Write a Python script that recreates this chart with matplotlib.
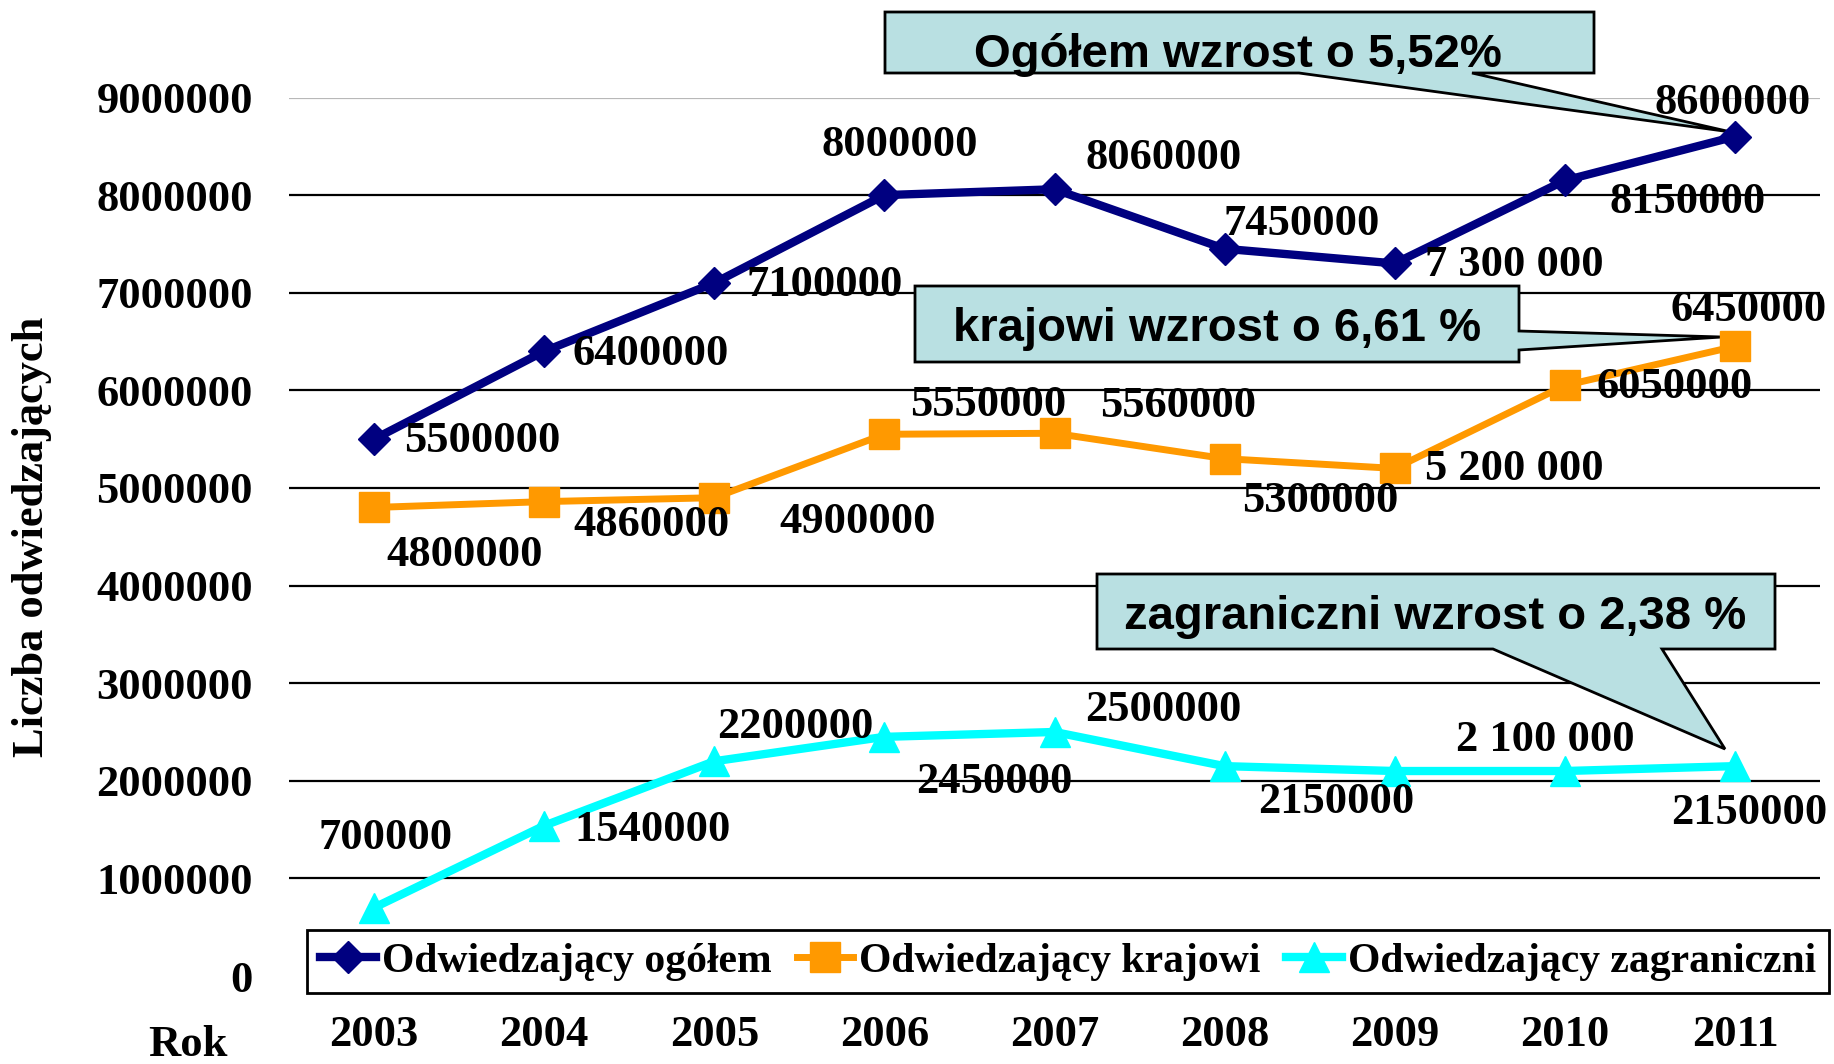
import matplotlib
matplotlib.use("Agg")
import matplotlib.pyplot as plt
from matplotlib.patches import Polygon

W, H = 1834, 1064

# data
years = ['2003', '2004', '2005', '2006', '2007', '2008', '2009', '2010', '2011']
ogolem = [5500000, 6400000, 7100000, 8000000, 8060000, 7450000, 7300000, 8150000, 8600000]
krajowi = [4800000, 4860000, 4900000, 5550000, 5560000, 5300000, 5200000, 6050000, 6450000]
zagraniczni = [700000, 1540000, 2200000, 2450000, 2500000, 2150000, 2100000, 2100000, 2150000]

lab_ogolem = ['5500000', '6400000', '7100000', '8000000', '8060000', '7450000', '7 300 000', '8150000', '8600000']
lab_krajowi = ['4800000', '4860000', '4900000', '5550000', '5560000', '5300000', '5 200 000', '6050000', '6450000']
lab_zagr = ['700000', '1540000', '2200000', '2450000', '2500000', '2150000', '', '2 100 000', '2150000']

yticks = [0, 1000000, 2000000, 3000000, 4000000, 5000000, 6000000, 7000000, 8000000, 9000000]

# label offsets (pixels, image direction: +y is down)
off_ogolem = [(108, 2), (107, 3), (110, 2), (15, -50), (109, -31), (77, -25), (120, 2), (123, 22), (-2, -34)]
off_krajowi = [(91, 48), (107, 23), (143, 24), (104, -29), (124, -27), (96, 42), (120, 1), (110, 2), (14, -36)]
off_zagr = [(12, -70), (108, 4), (81, -34), (110, 45), (109, -22), (112, 36), (0, 0), (-20, -31), (14, 47)]

serif = dict(family='Liberation Serif', weight='bold', size=32)
sans = dict(family='Liberation Sans', weight='bold', size=34)

fig = plt.figure(figsize=(W / 100, H / 100), dpi=100)
ax = fig.add_axes([289 / W, 1 - 976 / H, (1820 - 289) / W, (976 - 97.5) / H])

x = list(range(len(years)))
ax.plot(x, ogolem, color='#000080', lw=6, marker='D', ms=16, zorder=3, label='Odwiedzający ogółem')
ax.plot(x, krajowi, color='#FF9900', lw=5, marker='s', ms=21, zorder=3, label='Odwiedzający krajowi')
ax.plot(x, zagraniczni, color='#00FFFF', lw=6, marker='^', ms=22, zorder=3, label='Odwiedzający zagraniczni')

for vals, labs, offs in [(ogolem, lab_ogolem, off_ogolem), (krajowi, lab_krajowi, off_krajowi),
                         (zagraniczni, lab_zagr, off_zagr)]:
    for i, (v, t, o) in enumerate(zip(vals, labs, offs)):
        if t:
            ax.annotate(t, (i, v), xytext=(o[0], -o[1]), textcoords='offset pixels',
                        ha='center', va='center', zorder=4, **serif)

ax.set_xlim(-0.5, 8.5)
ax.set_ylim(0, 9000000)
ax.set_yticks(yticks)
ax.set_yticklabels([str(v) for v in yticks], **serif)
ax.set_xticks(x)
ax.set_xticklabels(years, **serif)
ax.tick_params(axis='y', length=0, pad=26)
ax.tick_params(axis='x', length=0, pad=28)
for s in ax.spines.values():
    s.set_visible(False)
ax.yaxis.grid(True, color='black', lw=1.6, zorder=0.5)
ax.set_axisbelow(True)
ax.get_ygridlines()[-1].set_color('#b8b8b8')
ax.get_ygridlines()[0].set_visible(False)

# callouts
def callout(pts, text, tx, ty):
    P = [(px / W, 1 - py / H) for px, py in pts]
    ax.add_patch(Polygon(P, closed=True, transform=fig.transFigure, clip_on=False,
                         fc='#B9E0E2', ec='black', lw=2, zorder=2))
    ax.text(tx / W, 1 - ty / H, text, transform=fig.transFigure, ha='center', va='baseline',
            zorder=2.1, **sans)

callout([(885, 12), (1594, 12), (1594, 73), (1472, 73), (1731, 132), (1299, 73), (885, 73)],
        'Ogółem wzrost o 5,52%', 1238, 67)
callout([(915, 286), (1519, 286), (1519, 331), (1722, 337), (1519, 350), (1519, 362), (915, 362)],
        'krajowi wzrost o 6,61 %', 1217, 341)
callout([(1097, 574), (1775, 574), (1775, 649), (1662, 649), (1725, 749), (1493, 649), (1097, 649)],
        'zagraniczni wzrost o 2,38 %', 1435, 629)

leg = ax.legend(loc='center', bbox_to_anchor=(1068 / W, 1 - 961.5 / H), bbox_transform=fig.transFigure,
                ncol=3, prop=dict(family='Liberation Serif', weight='bold', size=30), frameon=True,
                fancybox=False, edgecolor='black', framealpha=1, handlelength=1.35, handletextpad=0.15,
                columnspacing=0.6, borderpad=0.3)
leg.get_frame().set_linewidth(2)
leg.set_zorder(5)

fig.text(32 / W, 1 - 537 / H, 'Liczba odwiedzających', rotation=90, ha='center', va='center', **serif)
fig.text(188 / W, 1 - 1045 / H, 'Rok', ha='center', va='center', **serif)

fig.savefig('out.png', dpi=100)
